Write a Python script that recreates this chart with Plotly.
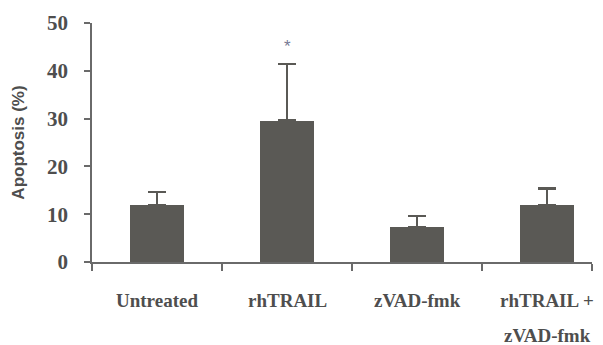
import plotly.graph_objects as go

categories = ["Untreated", "rhTRAIL", "zVAD-fmk", "rhTRAIL + zVAD-fmk"]
label_line1 = ["Untreated", "rhTRAIL", "zVAD-fmk", "rhTRAIL +"]
label_line2 = ["", "", "", "zVAD-fmk"]
apoptosis = [11.9, 29.6, 7.3, 11.9]
sem = [2.7, 11.8, 2.3, 3.5]
sem_minus = [0, 0, 0, 0]
y_ticks = [0, 10, 20, 30, 40, 50]
significance = ["", "*", "", ""]

bar_color = "#5a5955"
text_color = "#4e4e4e"
axis_color = "#6a6a6a"

fig = go.Figure()
fig.add_trace(go.Bar(
    x=list(range(len(categories))),
    y=apoptosis,
    width=0.415,
    marker=dict(color=bar_color, line=dict(width=0)),
    error_y=dict(type="data", array=sem, arrayminus=sem_minus, symmetric=False,
                 color=bar_color, thickness=2.5, width=9),
    hoverinfo="skip",
))

label_font = dict(family="Liberation Serif", size=19, color=text_color, weight="bold")
for i, (l1, l2) in enumerate(zip(label_line1, label_line2)):
    fig.add_annotation(x=i, y=0, xref="x", yref="paper",
                       text=l1, showarrow=False, yanchor="middle",
                       yshift=-38, font=label_font)
    if l2:
        fig.add_annotation(x=i, y=0, xref="x", yref="paper",
                           text=l2, showarrow=False, yanchor="middle",
                           yshift=-73, font=label_font)

for i, s in enumerate(significance):
    if s:
        fig.add_annotation(x=i, y=apoptosis[i] + sem[i], xref="x", yref="y",
                           text=s, showarrow=False, yanchor="bottom", yshift=6,
                           font=dict(family="Liberation Sans", size=17, color="#767a94"))

fig.update_layout(
    width=603, height=345,
    margin=dict(l=92, r=11, t=18, b=83),
    plot_bgcolor="white", paper_bgcolor="white",
    showlegend=False,
    bargap=0,
    xaxis=dict(
        range=[-0.5, 3.346],
        tickmode="array",
        tickvals=[-0.5, 0.5, 1.5, 2.5, 3.346],
        ticktext=["", "", "", "", ""],
        ticks="outside", ticklen=7, tickwidth=1.5, tickcolor=axis_color,
        showline=True, linecolor=axis_color, linewidth=1.5,
        showgrid=False, zeroline=False,
    ),
    yaxis=dict(
        range=[0, 50],
        tickmode="array", tickvals=y_ticks,
        ticks="outside", ticklen=6, tickwidth=1.5, tickcolor=axis_color,
        showline=True, linecolor=axis_color, linewidth=1.5,
        showgrid=False, zeroline=False,
        ticklabelstandoff=12,
        tickfont=dict(family="Liberation Serif", size=21, color=text_color, weight="bold"),
        title=dict(text="Apoptosis (%)", standoff=18,
                   font=dict(family="Liberation Sans", size=17, color=text_color, weight="bold")),
    ),
)

fig.write_html("out.html")
